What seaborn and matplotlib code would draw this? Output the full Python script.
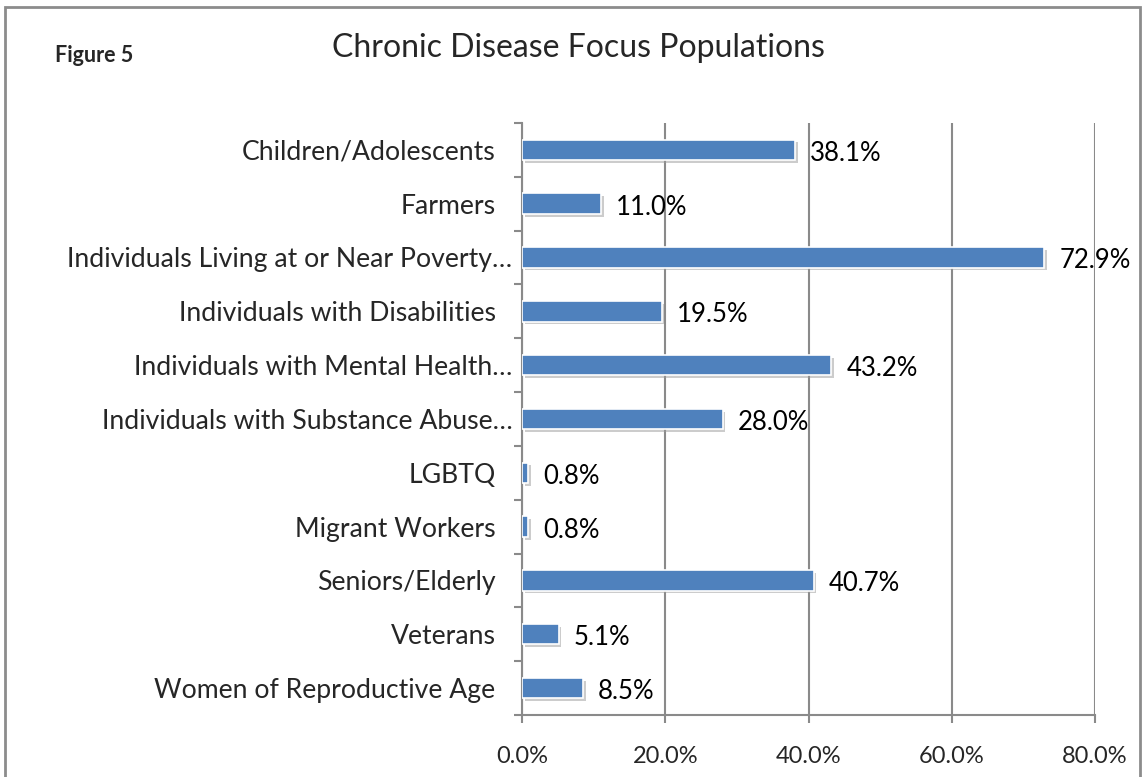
import pandas as pd
import seaborn as sns
import matplotlib.pyplot as plt
import matplotlib.patheffects as pe
from matplotlib.patches import Rectangle
from matplotlib.ticker import FuncFormatter, FixedLocator
from matplotlib.transforms import ScaledTranslation

# Data
populations = [
    "Children/Adolescents",
    "Farmers",
    "Individuals Living at or Near Poverty…",
    "Individuals with Disabilities",
    "Individuals with Mental Health…",
    "Individuals with Substance Abuse…",
    "LGBTQ",
    "Migrant Workers",
    "Seniors/Elderly",
    "Veterans",
    "Women of Reproductive Age",
]
shares = [38.1, 11.0, 72.9, 19.5, 43.2, 28.0, 0.8, 0.8, 40.7, 5.1, 8.5]
x_ticks = [0, 20, 40, 60, 80]

df = pd.DataFrame({"Population": populations, "Share": shares})

sns.set_style("white")
plt.rcParams["font.family"] = ["Lato", "DejaVu Sans"]

fig = plt.figure(figsize=(11.46, 7.77), dpi=100)
ax = fig.add_axes([0.4555, 0.0798, 0.5, 0.762])

grid_col = "#8a8a8a"
bar_col = "#4f81bd"

sns.barplot(data=df, x="Share", y="Population", orient="h", color=bar_col,
            width=0.38, saturation=1, edgecolor="white", linewidth=1.2, ax=ax)

for p in ax.patches:
    p.set_path_effects([pe.SimplePatchShadow(offset=(2, -2), shadow_rgbFace="#9a9a9a", alpha=0.5),
                        pe.Normal()])
    p.set_zorder(3)

labels = ax.bar_label(ax.containers[0], labels=[f"{v:.1f}%" for v in shares],
                      padding=11, fontsize=18.5, color="black", zorder=5)
# nudge value labels down a little, like the original
for t in labels:
    t.xyann = (11, -2.5)

ax.set_xlim(0, 80)
ax.set_ylim(10.5, -0.5)
ax.xaxis.set_major_locator(FixedLocator(x_ticks))
ax.xaxis.set_major_formatter(FuncFormatter(lambda v, _: f"{v:.1f}%"))
ax.grid(axis="x", color=grid_col, linewidth=1.5, zorder=0)
ax.set_axisbelow(True)

# ticks at category boundaries on the y axis
ax.yaxis.set_minor_locator(FixedLocator([i - 0.5 for i in range(len(populations) + 1)]))
ax.tick_params(axis="y", which="major", length=0, pad=19, labelsize=19.2)
ax.tick_params(axis="y", which="minor", left=True, length=6, width=1.5, color=grid_col)
ax.tick_params(axis="x", which="major", bottom=True, length=6, width=1.5, color=grid_col,
               pad=16, labelsize=17)

# truncated labels sit closer to the axis in the original
for lab in ax.get_yticklabels():
    if lab.get_text().endswith("…"):
        lab.set_transform(lab.get_transform() + ScaledTranslation(17 / 100, 0, fig.dpi_scale_trans))

for side in ["top", "right"]:
    ax.spines[side].set_visible(False)
for side in ["left", "bottom"]:
    ax.spines[side].set_color(grid_col)
    ax.spines[side].set_linewidth(1.5)

ax.set_xlabel("")
ax.set_ylabel("")

fig.text(0.505, 0.938, "Chronic Disease Focus Populations", ha="center", va="center", fontsize=23)
fig.text(0.048, 0.929, "Figure 5", ha="left", va="center", fontsize=15.5, fontweight="bold")

fig.patches.append(Rectangle((5 / 1146, -0.01), 1135 / 1146, 1 - 7 / 777 + 0.01,
                             transform=fig.transFigure, fill=False,
                             edgecolor="#8c8c8c", linewidth=2))

fig.savefig("out.png", dpi=100)
